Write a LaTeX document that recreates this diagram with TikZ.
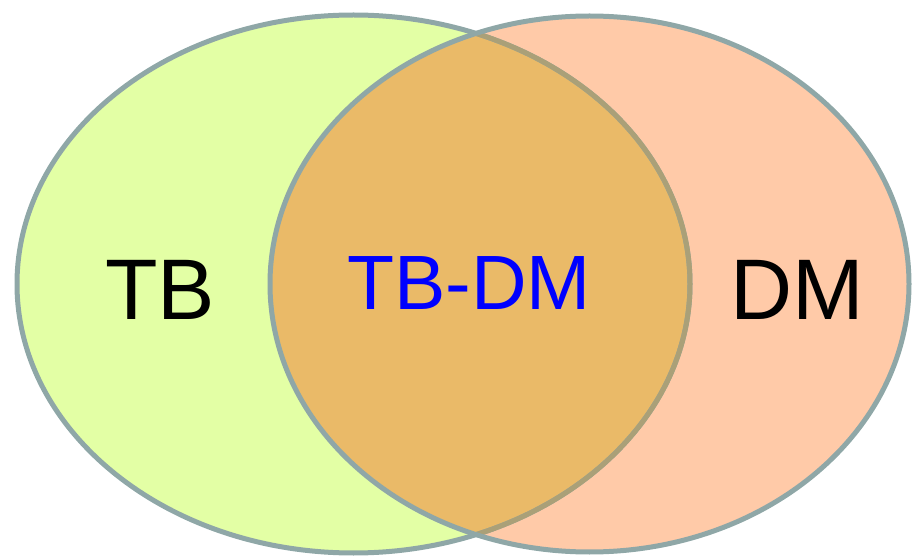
\documentclass[tikz,border=0pt]{standalone}
\usepackage{fontspec}
\setmainfont{Liberation Sans}
\definecolor{edge}{RGB}{143,167,167}
\definecolor{edgein}{RGB}{170,160,120}
\definecolor{tbfill}{RGB}{227,255,165}
\definecolor{dmfill}{RGB}{255,202,168}
\definecolor{bothfill}{RGB}{234,186,104}
\definecolor{bothtext}{RGB}{0,0,255}
\usetikzlibrary{positioning}
\tikzset{
  % curve
	vennedge/.style   ={draw=edge, line width=5pt},
	venneedgein/.style={draw=edgein, line width=5pt},
  % fill
	vennfill1/.style  ={fill=tbfill},
	vennfill2/.style  ={fill=dmfill},
	vennfill3/.style  ={fill=bothfill},
  % node
	vennlabel/.style  ={font=\fontsize{86}{86}\selectfont, anchor=base, inner sep=0pt},
	vennlabelc/.style ={font=\fontsize{77}{77}\selectfont, anchor=base, inner sep=0pt, text=bothtext}
}

\begin{document}
\begin{tikzpicture}[x=1pt,y=-1pt]
	\useasboundingbox (0,0) rectangle (914,556);
	\def\tbset{(353.5,284) ellipse [x radius=336.5, y radius=269]}
	\def\dmset{(589.5,284) ellipse [x radius=319.5, y radius=268]}
	\fill[vennfill1] \tbset;
	\fill[vennfill2] \dmset;
	\begin{scope}
		\clip \dmset;
		\fill[vennfill3] \tbset;
	\end{scope}
	\draw[vennedge] \tbset;
	\begin{scope}
		\clip \dmset;
		\draw[venneedgein] \tbset;
	\end{scope}
	\draw[vennedge] \dmset;
	\node[vennlabel] (tb) at (160,320) {TB};
	\node[vennlabelc] (tbdm) at (469,310) {TB-DM};
	\node[vennlabel] (dm) at (797,320) {DM};
\end{tikzpicture}
\end{document}
